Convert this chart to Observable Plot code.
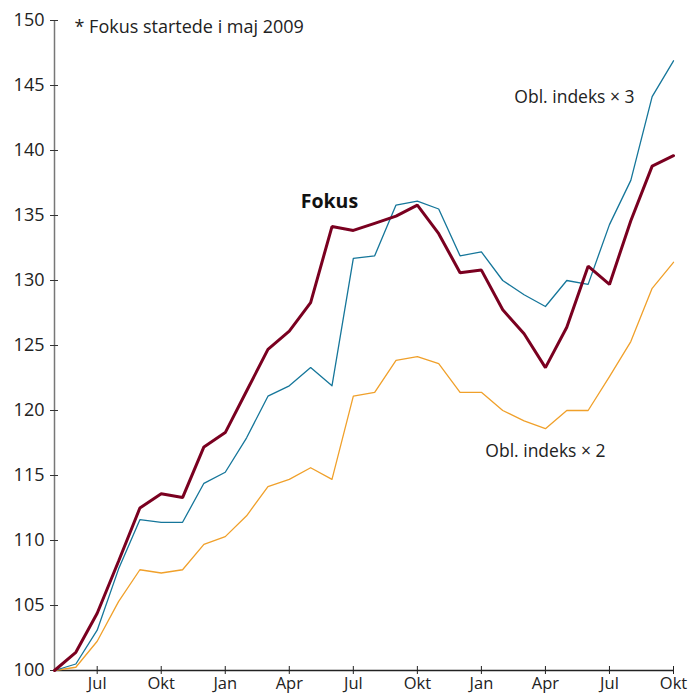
<!DOCTYPE html>
<html>
<head>
<meta charset="utf-8">
<script src="https://cdn.jsdelivr.net/npm/d3@7"></script>
<script src="https://cdn.jsdelivr.net/npm/@observablehq/plot@0.6"></script>
<style>
  html, body { margin: 0; padding: 0; background: #fff; }
  #chart { width: 688px; height: 695px; }
</style>
</head>
<body>
<div id="chart"></div>
<script>
const months = ["2009-05","2009-06","2009-07","2009-08","2009-09","2009-10","2009-11","2009-12",
  "2010-01","2010-02","2010-03","2010-04","2010-05","2010-06","2010-07","2010-08","2010-09","2010-10","2010-11","2010-12",
  "2011-01","2011-02","2011-03","2011-04","2011-05","2011-06","2011-07","2011-08","2011-09","2011-10"];

const fokus = [100, 101.4, 104.4, 108.4, 112.5, 113.6, 113.3, 117.2,
  118.3, 121.5, 124.7, 126.1, 128.3, 134.15, 133.85, 134.4, 134.95, 135.8, 133.6, 130.6,
  130.8, 127.75, 125.9, 123.3, 126.4, 131.1, 129.7, 134.6, 138.8, 139.6];

const obl3 = [100, 100.5, 103.1, 107.8, 111.6, 111.4, 111.4, 114.4,
  115.25, 117.9, 121.1, 121.9, 123.3, 121.9, 131.7, 131.9, 135.8, 136.1, 135.5, 131.9,
  132.2, 130.0, 128.9, 128.0, 130.0, 129.7, 134.3, 137.7, 144.15, 146.9];

const obl2 = [100, 100.25, 102.25, 105.3, 107.75, 107.5, 107.75, 109.7,
  110.3, 111.9, 114.15, 114.7, 115.6, 114.7, 121.1, 121.4, 123.85, 124.15, 123.6, 121.4,
  121.4, 120.0, 119.2, 118.6, 120.0, 120.0, 122.6, 125.3, 129.4, 131.4];

const xTickIdx = [2, 5, 8, 11, 14, 17, 20, 23, 26, 29];
const xTickLabels = ["Jul","Okt","Jan","Apr","Jul","Okt","Jan","Apr","Jul","Okt"];
const yTicks = [100, 105, 110, 115, 120, 125, 130, 135, 140, 145, 150];

const boldLabels = [{text: "Fokus", i: 12.88, v: 136.08}];
const seriesLabels = [
  {text: "Obl. indeks × 3", i: 24.36, v: 144.08},
  {text: "Obl. indeks × 2", i: 23.0, v: 116.85}
];
const note = "* Fokus startede i maj 2009";

const rows = (arr) => arr.map((v, i) => ({i, v, m: months[i]}));

const font = "'Open Sans', sans-serif";
const tickLabel = (i) => xTickLabels[xTickIdx.indexOf(i)];

const chart = Plot.plot({
  width: 688,
  height: 695,
  marginLeft: 54,
  marginRight: 15,
  marginTop: 20,
  marginBottom: 25,
  style: {fontFamily: font, fontSize: "18px", color: "#222", background: "#fff"},
  x: {type: "linear", domain: [0, 29], label: null},
  y: {domain: [100, 150], label: null},
  marks: [
    Plot.ruleX([0], {stroke: "#777", strokeWidth: 1.5}),
    Plot.ruleY([100], {stroke: "#222", strokeWidth: 1.5}),
    Plot.axisY({ticks: yTicks, tickSize: 4, tickPadding: 6, label: null, stroke: "#333", fontSize: 18}),
    Plot.axisY({ticks: yTicks, tickSize: 4, text: null, label: null, dx: 4, stroke: "#333"}),
    Plot.axisX({ticks: xTickIdx, tickFormat: tickLabel, tickSize: 4, tickPadding: 3, label: null, stroke: "#222", fontSize: 16.5}),
    Plot.axisX({ticks: xTickIdx, tickSize: 4, text: null, label: null, dy: -4, stroke: "#222"}),
    Plot.line(rows(obl2), {x: "i", y: "v", stroke: "#f0a02a", strokeWidth: 1.3}),
    Plot.line(rows(obl3), {x: "i", y: "v", stroke: "#15769a", strokeWidth: 1.3}),
    Plot.line(rows(fokus), {x: "i", y: "v", stroke: "#7a0020", strokeWidth: 3, strokeLinejoin: "miter"}),
    Plot.text(boldLabels, {x: "i", y: "v", text: "text", fontWeight: "bold", fontSize: 19.5, fill: "#111", textAnchor: "middle"}),
    Plot.text(seriesLabels, {x: "i", y: "v", text: "text", fontSize: 17.5, fill: "#222", textAnchor: "middle"}),
    Plot.text([note], {frameAnchor: "top-left", dx: 20, dy: 0, text: d => d, fontSize: 18, fill: "#222", textAnchor: "start"})
  ]
});
document.getElementById("chart").appendChild(chart);
</script>
</body>
</html>
